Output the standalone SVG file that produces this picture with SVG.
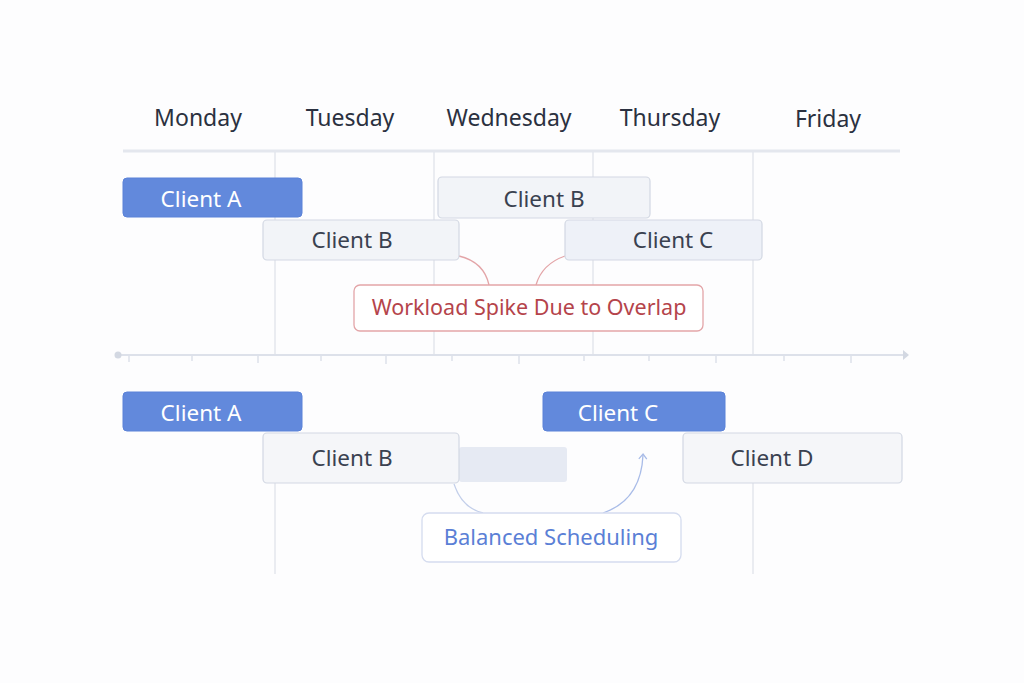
<svg xmlns="http://www.w3.org/2000/svg" width="1024" height="683" viewBox="0 0 1024 683">
<style>
  text { font-family: "Noto Sans", "Open Sans", sans-serif; text-anchor: middle; }
  .day { font-size: 23px; fill: #2b3140; }
  .grid { stroke: #e3e6ed; stroke-width: 1.5; fill: none; }
  .blue rect { fill: #6289dc; stroke: #5b82d8; stroke-width: 1; }
  .blue text { fill: #ffffff; font-size: 22.5px; }
  .grey rect { fill: #f2f4f8; stroke: #d3d8e3; stroke-width: 1.2; }
  .grey text { fill: #3a4150; font-size: 22.5px; }
  .tick { stroke: #dde1ea; stroke-width: 1.5; }
</style>
<defs>
  <marker id="chev" viewBox="0 0 10 10" refX="5" refY="5" markerWidth="10" markerHeight="10" orient="auto" markerUnits="userSpaceOnUse">
    <path d="M1,1 L6,5 L1,9" fill="none" stroke="#a9bce8" stroke-width="1.3"/>
  </marker>
</defs>
<rect width="1024" height="683" fill="#fdfdfe"/>

<g id="headers">
  <text class="day" x="198" y="126">Monday</text>
  <text class="day" x="350" y="126">Tuesday</text>
  <text class="day" x="509" y="126">Wednesday</text>
  <text class="day" x="670" y="126">Thursday</text>
  <text class="day" x="828" y="127">Friday</text>
  <line x1="123" y1="151" x2="900" y2="151" stroke="#e4e7ee" stroke-width="3"/>
</g>

<g id="grid">
  <line class="grid" x1="275" y1="152" x2="275" y2="355"/>
  <line class="grid" x1="434" y1="152" x2="434" y2="355"/>
  <line class="grid" x1="593" y1="152" x2="593" y2="355"/>
  <line class="grid" x1="753" y1="152" x2="753" y2="355"/>
  <line class="grid" x1="275" y1="483" x2="275" y2="574"/>
  <line class="grid" x1="753" y1="483" x2="753" y2="574"/>
</g>

<g id="axis">
  <line x1="118" y1="355" x2="904" y2="355" stroke="#dde1ea" stroke-width="2"/>
  <circle cx="118" cy="355" r="3.5" fill="#d3d8e2"/>
  <path d="M903,350 L909,355 L903,360 Z" fill="#d3d8e2"/>
  <line class="tick" x1="129" y1="355" x2="129" y2="362"/>
  <line class="tick" x1="192" y1="355" x2="192" y2="361"/>
  <line class="tick" x1="258" y1="355" x2="258" y2="363"/>
  <line class="tick" x1="321" y1="355" x2="321" y2="361"/>
  <line class="tick" x1="386" y1="355" x2="386" y2="364"/>
  <line class="tick" x1="452" y1="355" x2="452" y2="361"/>
  <line class="tick" x1="519" y1="355" x2="519" y2="364"/>
  <line class="tick" x1="584" y1="355" x2="584" y2="361"/>
  <line class="tick" x1="649" y1="355" x2="649" y2="361"/>
  <line class="tick" x1="716" y1="355" x2="716" y2="363"/>
  <line class="tick" x1="784" y1="355" x2="784" y2="361"/>
  <line class="tick" x1="851" y1="355" x2="851" y2="363"/>
</g>

<g id="connectors">
  <path d="M459,256 Q484,262 489,285" fill="none" stroke="#e3a5a8" stroke-width="1.3"/>
  <path d="M565,256 Q542,264 536,285" fill="none" stroke="#e3a5a8" stroke-width="1.3"/>
  <path d="M454,484 Q462,508 483,513" fill="none" stroke="#c3cfea" stroke-width="1.3"/>
  <path d="M603,513 Q641,500 643,455" fill="none" stroke="#a9bce8" stroke-width="1.3" marker-end="url(#chev)"/>
</g>

<g id="top-client-a" class="blue">
  <rect x="123" y="178" width="179" height="39" rx="4"/>
  <text x="201" y="207">Client A</text>
</g>
<g id="top-client-b1" class="grey">
  <rect x="438" y="177" width="212" height="41" rx="4"/>
  <text x="544" y="207">Client B</text>
</g>
<g id="top-client-b2" class="grey">
  <rect x="263" y="220" width="196" height="40" rx="4"/>
  <text x="352" y="248">Client B</text>
</g>
<g id="top-client-c" class="grey">
  <rect x="565" y="220" width="197" height="40" rx="4" style="fill:#eef1f8"/>
  <text x="673" y="248">Client C</text>
</g>
<g id="workload-spike">
  <rect x="354" y="285" width="349" height="46" rx="6" fill="#ffffff" stroke="#e3a5a8" stroke-width="1.3"/>
  <text x="529" y="315" style="font-size:21.5px;fill:#b5444b">Workload Spike Due to Overlap</text>
</g>

<g id="bot-client-a" class="blue">
  <rect x="123" y="392" width="179" height="39" rx="4"/>
  <text x="201" y="421">Client A</text>
</g>
<g id="bot-client-c" class="blue">
  <rect x="543" y="392" width="182" height="39" rx="4"/>
  <text x="618" y="421">Client C</text>
</g>
<g id="ghost-slot">
  <rect x="459" y="447" width="108" height="35" rx="3" fill="#e6eaf3"/>
</g>
<g id="bot-client-b" class="grey">
  <rect x="263" y="433" width="196" height="50" rx="4" style="fill:#f5f6f9"/>
  <text x="352" y="466">Client B</text>
</g>
<g id="bot-client-d" class="grey">
  <rect x="683" y="433" width="219" height="50" rx="4" style="fill:#f5f6f9"/>
  <text x="772" y="466">Client D</text>
</g>
<g id="balanced">
  <rect x="422" y="513" width="259" height="49" rx="7" fill="#ffffff" stroke="#d5dcef" stroke-width="1.3"/>
  <text x="551" y="545" style="font-size:22px;fill:#5b7fd6">Balanced Scheduling</text>
</g>
</svg>
